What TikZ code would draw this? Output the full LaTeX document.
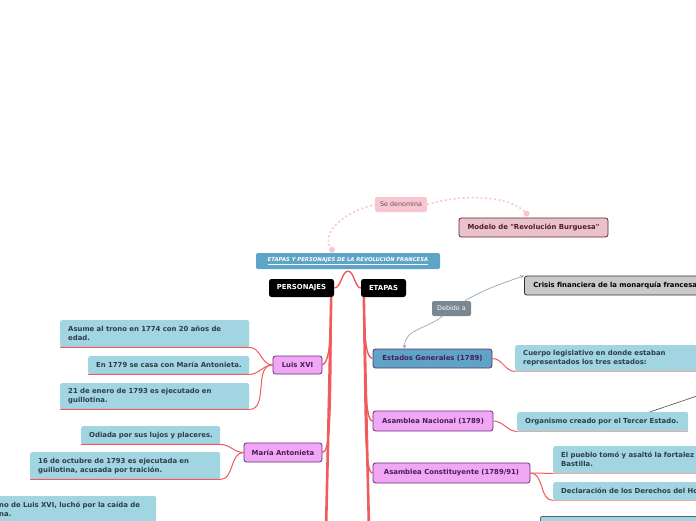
\documentclass[tikz,border=0pt]{standalone}
\usepackage{fontspec}
\setmainfont{DejaVu Sans}
\newcommand\straightquote{\XeTeXglyph\XeTeXcharglyph"22\relax}
\definecolor{leafblue}{HTML}{A0D5E1}
\definecolor{leaftext}{HTML}{2E3D4C}
\definecolor{branchred}{HTML}{F05B5B}
\definecolor{underpink}{HTML}{F6A3A3}
\definecolor{topicfill}{HTML}{F0A8F6}
\definecolor{topicline}{HTML}{6A2C72}
\definecolor{topictext}{HTML}{4A1B55}
\definecolor{steel}{HTML}{5DA4C6}
\definecolor{labelpink}{HTML}{F9C5D0}
\definecolor{modelfill}{HTML}{E8C3CB}
\definecolor{modelline}{HTML}{6B1F30}
\definecolor{crisisfill}{HTML}{C9C9C9}
\definecolor{relgray}{HTML}{7B8791}
\definecolor{relline}{HTML}{9AA4AD}
\begin{document}
\begin{tikzpicture}[x=1pt,y=-1pt,>=stealth,
  txt/.style={font=\fontsize{6.9}{9}\selectfont\bfseries},
  leaf/.style={txt,fill=leafblue,rounded corners=2pt,anchor=north west,align=left,
    inner xsep=8pt,inner ysep=0pt,text=leaftext},
  topic/.style={txt,draw=topicline,fill=topicfill,line width=0.8pt,rounded corners=2.5pt,
    text=topictext,inner sep=0pt,minimum height=19pt},
  head/.style={txt,fill=black,rounded corners=2.5pt,text=white,inner sep=0pt,minimum height=18pt},
  tag/.style={rounded corners=2pt,inner sep=0pt,minimum height=15pt,font=\fontsize{6.4}{8}\selectfont},
  trunk/.style={draw=branchred,line width=2.6pt},
  branch/.style={draw=branchred,line width=1.4pt},
  twig/.style={draw=branchred,line width=1pt},
  underline/.style={draw=underpink,line width=1pt},
  relation/.style={->,draw=relline,line width=0.7pt},
  dots/.style={draw=labelpink,line width=1.6pt,dash pattern=on 2pt off 2.5pt}]
  \useasboundingbox (0,0) rectangle (696,520);
  \clip (0,0) rectangle (696,520);

  \node[fill=steel,rounded corners=1.5pt,minimum width=184pt,minimum height=16pt,inner sep=0pt,
    text=white,font=\fontsize{5.3}{6}\selectfont\bfseries\itshape] (title) at (348,261)
    {\underline{ETAPAS Y PERSONAJES DE LA REVOLUCIÓN FRANCESA}};
  \node[head,minimum width=65pt] (pers) at (301.5,288) {PERSONAJES};
  \node[head,minimum width=45pt] (etapas) at (383.5,288) {ETAPAS};

  \node[tag,fill=labelpink,text=black!65,minimum width=52pt] (denom) at (401,204.5) {Se denomina};
  \node[txt,draw=modelline,fill=modelfill,line width=0.8pt,rounded corners=2.5pt,text=modelline!80!black,
    inner sep=0pt,minimum width=149pt,minimum height=19pt] (modelo) at (533.5,227.5)
    {Modelo de \straightquote Revolución Burguesa\straightquote};
  \node[txt,draw=black!80,fill=crisisfill,line width=0.8pt,rounded corners=2.5pt,anchor=west,
    inner xsep=9pt,inner ysep=0pt,minimum height=19pt,text width=200pt,align=left] (crisis)
    at (524,285.5) {Crisis financiera de la monarquía francesa};
  \node[tag,fill=relgray,text=white,minimum width=39pt] (debido) at (451.5,308.5) {Debido a};

  % personajes
  \node[topic,minimum width=49pt,minimum height=18pt] (luis) at (297.5,365) {Luis XVI};
  \node[topic,minimum width=78pt] (maria) at (283,452.5) {María Antonieta};
  \node[leaf,text width=173pt,minimum height=27pt] (trono) at (60,320) {Asume al trono en 1774 con 20 años de\\edad.};
  \node[leaf,text width=145pt,minimum height=18pt] (boda) at (88,356) {\mbox{En 1779 se casa con María Antonieta.}};
  \node[leaf,text width=173pt,minimum height=26pt] (muerte) at (60,383) {21 de enero de 1793 es ejecutado en\\guillotina.};
  \node[leaf,text width=123pt,minimum height=18pt] (lujos) at (81,426) {\mbox{Odiada por sus lujos y placeres.}};
  \node[leaf,text width=174pt,minimum height=27pt] (traicion) at (30,452) {16 de octubre de 1793 es ejecutada en\\guillotina, acusada por traición.};
  \node[leaf,text width=149pt,minimum height=27pt] (hermano) at (-9,496) {no de Luis XVI, luchó por la caída de\\na.};

  % etapas
  \node[topic,fill=steel,minimum width=119pt] (estados) at (432.5,358.5) {Estados Generales (1789)};
  \node[topic,minimum width=120pt,minimum height=20pt] (nacional) at (433,421) {Asamblea Nacional (1789)};
  \node[topic,minimum width=157pt,minimum height=20pt] (constit) at (451.5,473) {Asamblea Constituyente (1789/91)};
  \node[leaf,text width=200pt,minimum height=26pt] (cuerpo) at (515,345) {Cuerpo legislativo en donde estaban\\representados los tres estados:};
  \node[leaf,text width=155pt,minimum height=19pt] (tercer) at (517,412) {\mbox{Organismo creado por el Tercer Estado.}};
  \node[leaf,text width=200pt,minimum height=27pt] (bastilla) at (553,446) {El pueblo tomó y asaltó la fortalez\\Bastilla.};
  \node[leaf,text width=200pt,minimum height=18pt] (derechos) at (553,482) {Declaración de los Derechos del Ho};
  \node[leaf,draw=leaftext!80,line width=0.8pt,text width=200pt,minimum height=20pt] (siguiente) at (540,516) {};

  \coordinate (hub) at ([yshift=-2pt]title.south);
  \coordinate (ptop) at ([xshift=-3pt]pers.south east);
  \coordinate (pbot) at (326,530);
  \coordinate (etop) at ([xshift=3pt]etapas.south west);
  \coordinate (ebot) at (369,530);
  \coordinate (dotA) at ([xshift=-16pt,yshift=3pt]title.north);
  \coordinate (dotB) at ([xshift=-7pt,yshift=4pt]modelo.north);
  \coordinate (offright) at (700,395);

  \draw[branch] (pers.east) .. controls (341,288) and (342,271) .. (hub)
    .. controls (354,271) and (355,288) .. (etapas.west);
  \draw[trunk] (ptop) .. controls (329,400) .. (pbot);
  \draw[branch] (ptop) .. controls (331,335) and (330,362) .. (luis.east);
  \draw[branch] (ptop) .. controls (331,420) and (330,452) .. (maria.east);
  \draw[trunk] (etop) .. controls (366,400) .. (ebot);
  \draw[branch] (etop) .. controls (364,330) and (365,358) .. (estados.west);
  \draw[branch] (etop) .. controls (365,380) and (365,421) .. (nacional.west);
  \draw[branch] (etop) .. controls (365,430) and (365,473) .. (constit.west);

  \foreach \n in {trono,boda,muerte}
    \draw[twig] (\n.south west) -- (\n.south east) to[out=0,in=180] (luis.west);
  \foreach \n in {lujos,traicion}
    \draw[twig] (\n.south west) -- (\n.south east) to[out=0,in=180] (maria.west);

  \draw[twig] (estados.east) to[out=0,in=180] (cuerpo.south west);
  \draw[twig] (nacional.east) to[out=0,in=180] (tercer.south west);
  \draw[twig] (constit.east) to[out=0,in=180] (bastilla.south west);
  \draw[twig] (constit.east) to[out=0,in=180] (derechos.south west);
  \foreach \n in {cuerpo,tercer,bastilla,derechos}
    \draw[underline] (\n.south west) -- (\n.south east);

  \draw[relation] (debido) to[out=220,in=90] ([xshift=-28pt]estados.north);
  \draw[relation] (debido) to[out=30,in=200] (crisis.north west);
  \draw[black!70,line width=0.6pt] ([xshift=47pt]tercer.north) -- (offright);

  \fill[labelpink] (dotA) circle (3pt) (dotB) circle (3pt);
  \draw[dots] (dotA) .. controls (320,236) and (338,214) .. (denom.west);
  \draw[dots] (denom.east) .. controls (465,193) and (512,196) .. (dotB);
\end{tikzpicture}
\end{document}
